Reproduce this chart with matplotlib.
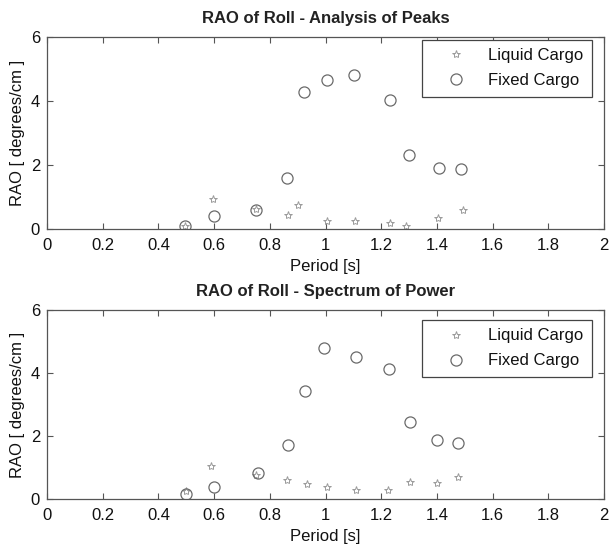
import matplotlib
matplotlib.use("Agg")
import matplotlib.pyplot as plt

plt.rcParams['font.family'] = ['Liberation Sans', 'DejaVu Sans']

# Top panel: Analysis of Peaks
peaks_fixed_x = [0.495, 0.60, 0.752, 0.86, 0.923, 1.004, 1.103, 1.233, 1.299, 1.408, 1.486]
peaks_fixed_y = [0.10, 0.42, 0.59, 1.58, 4.27, 4.66, 4.82, 4.04, 2.31, 1.90, 1.86]
peaks_liquid_x = [0.495, 0.597, 0.752, 0.864, 0.903, 1.004, 1.106, 1.233, 1.29, 1.405, 1.493]
peaks_liquid_y = [0.10, 0.95, 0.61, 0.45, 0.74, 0.24, 0.24, 0.19, 0.08, 0.35, 0.59]

# Bottom panel: Spectrum of Power
spec_fixed_x = [0.498, 0.60, 0.756, 0.866, 0.926, 0.996, 1.111, 1.228, 1.304, 1.399, 1.477]
spec_fixed_y = [0.17, 0.37, 0.82, 1.70, 3.42, 4.80, 4.52, 4.12, 2.43, 1.86, 1.78]
spec_liquid_x = [0.498, 0.59, 0.752, 0.862, 0.935, 1.006, 1.108, 1.226, 1.304, 1.399, 1.476]
spec_liquid_y = [0.24, 1.06, 0.77, 0.59, 0.48, 0.38, 0.27, 0.30, 0.55, 0.51, 0.70]

titles = ["RAO of Roll - Analysis of Peaks", "RAO of Roll - Spectrum of Power"]
xticks = [0, 0.2, 0.4, 0.6, 0.8, 1, 1.2, 1.4, 1.6, 1.8, 2]
xticklabels = ["0", "0.2", "0.4", "0.6", "0.8", "1", "1.2", "1.4", "1.6", "1.8", "2"]
yticks = [0, 2, 4, 6]

fig = plt.figure(figsize=(6.10, 5.44), dpi=100)
W, H = 610, 544
boxes = [(47, 37, 604, 229), (47, 310, 604, 499)]
legend_corner = [(592, 40), (592, 320)]
data = [(peaks_liquid_x, peaks_liquid_y, peaks_fixed_x, peaks_fixed_y),
        (spec_liquid_x, spec_liquid_y, spec_fixed_x, spec_fixed_y)]

for (l, t, r, b), (lcx, lcy), (lx, ly, fx, fy), title in zip(boxes, legend_corner, data, titles):
    ax = fig.add_axes([l / W, 1 - b / H, (r - l) / W, (b - t) / H])
    ax.plot(lx, ly, linestyle='none', marker='*', markersize=6,
            markerfacecolor='none', markeredgecolor='#9a9a9a', markeredgewidth=0.7,
            label='Liquid Cargo')
    ax.plot(fx, fy, linestyle='none', marker='o', markersize=8,
            markerfacecolor='none', markeredgecolor='#6a6a6a', markeredgewidth=0.9,
            label='Fixed Cargo')
    ax.set_xlim(0, 2)
    ax.set_ylim(0, 6)
    ax.set_xticks(xticks)
    ax.set_xticklabels(xticklabels)
    ax.set_yticks(yticks)
    ax.tick_params(direction='in', top=True, right=True, length=4, width=0.8,
                   labelsize=12, color='#555555', pad=5, labelcolor='#111111')
    ax.tick_params(axis='x', pad=6.5)
    for s in ax.spines.values():
        s.set_color('#555555')
        s.set_linewidth(0.9)
    ax.set_title(title, fontsize=12, fontweight='bold', color='#222222', pad=10)
    ax.set_xlabel('Period [s]', fontsize=12, labelpad=4, color='#111111')
    ax.set_ylabel('RAO [ degrees/cm ]', fontsize=12, labelpad=4, color='#111111')
    ax_x = (lcx - l) / (r - l)
    ax_y = 1 - (lcy - t) / (b - t)
    leg = ax.legend(loc='upper right', bbox_to_anchor=(ax_x, ax_y), fontsize=12,
                    frameon=True, fancybox=False, edgecolor='#444444',
                    borderaxespad=0, handlelength=3.1, handletextpad=0.4,
                    borderpad=0.5, labelspacing=0.6, framealpha=1)
    leg.get_frame().set_linewidth(0.9)
    for txt in leg.get_texts():
        txt.set_color('#111111')

fig.savefig('out.png', dpi=100, facecolor='white')
